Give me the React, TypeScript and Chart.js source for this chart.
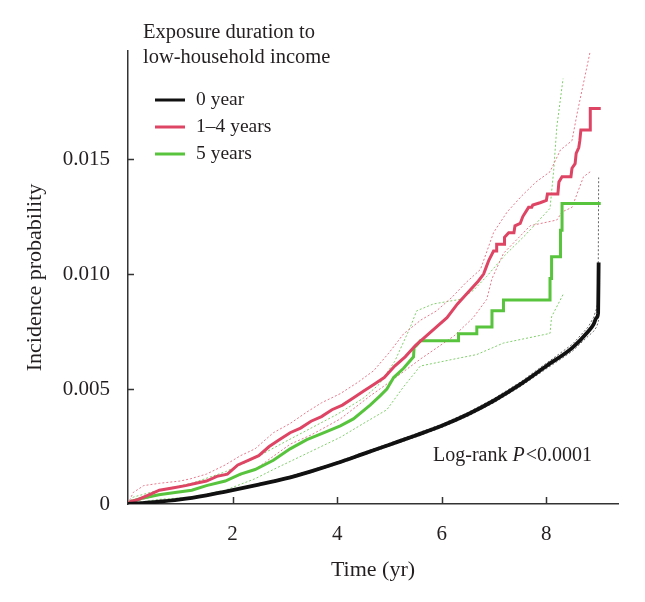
import { useEffect, useRef } from 'react';
import { Chart, registerables } from 'chart.js';

Chart.register(...registerables);

const FONT = '"Liberation Serif", "DejaVu Serif", serif';
const TEXT = '#231f20';

// ---------- data ----------
const xTicks = [2, 4, 6, 8];
const yTicks = [0, 0.005, 0.01, 0.015];
const yTickLabels = ['0', '0.005', '0.010', '0.015'];

const legendTitle = ['Exposure duration to', 'low-household income'];
const seriesNames = ['0 year', '1\u20134 years', '5 years'];

// 0 year
const t0 = [0, 0.5, 1, 1.5, 2, 2.5, 3, 3.5, 4, 4.5, 5, 5.5, 6, 6.5, 7, 7.5, 8, 8.5, 8.8, 8.9, 8.96, 8.99, 9.0];
const v0 = [0, 0.00008, 0.0002, 0.00038, 0.0006, 0.00084, 0.0011, 0.00142, 0.00178, 0.00218, 0.00258, 0.00298, 0.0034, 0.0039, 0.0045, 0.0052, 0.006, 0.0068, 0.0075, 0.0078, 0.0081, 0.0083, 0.0105];
const v0Upper = [0, 0.00009, 0.00022, 0.0004, 0.00063, 0.00087, 0.00114, 0.00147, 0.00183, 0.00224, 0.00264, 0.00305, 0.00347, 0.00398, 0.00459, 0.0053, 0.00612, 0.00695, 0.0077, 0.0081, 0.0085, 0.0088, 0.0142];
const v0Lower = [0, 0.00007, 0.00018, 0.00036, 0.00057, 0.00081, 0.00106, 0.00137, 0.00173, 0.00212, 0.00252, 0.00291, 0.00333, 0.00382, 0.00441, 0.0051, 0.00588, 0.00665, 0.0073, 0.0075, 0.0077, 0.0079, 0.008];

// 1-4 years
const t1 = [0, 0.05, 0.2, 0.4, 0.6, 0.85, 1.1, 1.3, 1.5, 1.7, 1.9, 2.1, 2.3, 2.5, 2.7, 2.9, 3.1, 3.3, 3.5, 3.7, 3.9, 4.1, 4.3, 4.5, 4.7, 4.9, 5.1, 5.3, 5.5, 5.7, 5.9, 6.1, 6.3, 6.5, 6.7,
  6.8, 6.85, 6.9, 6.99, 7.05, 7.05, 7.2, 7.2, 7.28, 7.38, 7.4, 7.5, 7.55, 7.66, 7.72, 7.74, 7.88, 8.0, 8.02, 8.22, 8.24, 8.3, 8.47, 8.49, 8.55, 8.57, 8.62, 8.64, 8.66, 8.84, 8.84, 9.04];
const v1 = [0, 0.0001, 0.0002, 0.0004, 0.0006, 0.0007, 0.0008, 0.0009, 0.001, 0.0012, 0.0013, 0.0017, 0.0019, 0.0021, 0.0025, 0.0028, 0.0031, 0.0033, 0.0036, 0.0038, 0.0041, 0.0043, 0.0046, 0.0049, 0.0052, 0.0055, 0.006, 0.0064, 0.0069, 0.0073, 0.0077, 0.0081, 0.0087, 0.0092, 0.0097,
  0.01, 0.0103, 0.0106, 0.011, 0.011, 0.0113, 0.0113, 0.0116, 0.0118, 0.0118, 0.0121, 0.0122, 0.0125, 0.0129, 0.0129, 0.013, 0.0131, 0.0132, 0.01348, 0.01348, 0.014, 0.01423, 0.01423, 0.0146, 0.0148, 0.01525, 0.0155, 0.0158, 0.01626, 0.01626, 0.0172, 0.0172];
const t1Upper = [0, 0.1, 0.3, 0.6, 1.0, 1.2, 1.5, 1.86, 2.15, 2.43, 2.78, 3.1, 3.42, 3.7, 4.06, 4.4, 4.7, 5.0, 5.27, 5.6, 5.9, 6.2, 6.45, 6.74, 6.99, 7.25, 7.53, 7.8, 8.07, 8.27, 8.49, 8.59, 8.71, 8.84];
const v1Upper = [0, 0.0005, 0.0008, 0.0009, 0.001, 0.0011, 0.0013, 0.0017, 0.0021, 0.0024, 0.0031, 0.0035, 0.004, 0.0044, 0.0048, 0.0053, 0.0058, 0.0066, 0.0074, 0.008, 0.0084, 0.009, 0.0096, 0.0102, 0.0118, 0.0127, 0.0134, 0.014, 0.01445, 0.0154, 0.0158, 0.017, 0.0183, 0.0197];
const t1Lower = [0, 0.27, 0.6, 1.22, 1.86, 2.43, 3.1, 3.5, 4.06, 4.63, 5.0, 5.59, 6.23, 6.6, 6.86, 6.96, 7.18, 7.69, 8.2, 8.3, 8.49, 8.71, 8.84];
const v1Lower = [0, 0.0002, 0.0004, 0.0006, 0.001, 0.0015, 0.0026, 0.003, 0.0037, 0.0047, 0.0053, 0.0063, 0.0073, 0.0081, 0.0089, 0.0098, 0.0109, 0.0121, 0.01235, 0.0127, 0.0129, 0.01423, 0.01445];

// 5 years
const t5 = [0, 0.05, 0.27, 0.59, 0.9, 1.22, 1.5, 1.86, 2.15, 2.43, 2.78, 3.1, 3.42, 3.75, 4.06, 4.31, 4.63, 4.82, 4.95, 5.08, 5.27, 5.46, 5.47, 5.52, 5.59,
  6.32, 6.32, 6.67, 6.67, 6.96, 6.96, 7.18, 7.18, 8.07, 8.07, 8.1, 8.1, 8.27, 8.27, 8.3, 8.3, 9.04];
const v5 = [0, 0.0001, 0.00025, 0.0004, 0.0005, 0.0006, 0.0008, 0.001, 0.0013, 0.0015, 0.0019, 0.0024, 0.0028, 0.0031, 0.0034, 0.0037, 0.0043, 0.0047, 0.005, 0.0055, 0.0059, 0.0064, 0.0068, 0.0069, 0.0071,
  0.0071, 0.0074, 0.0074, 0.0077, 0.0077, 0.0084, 0.0084, 0.00887, 0.00887, 0.00981, 0.00981, 0.01075, 0.01075, 0.0119, 0.0119, 0.01307, 0.01307];
const t5Upper = [0, 0.1, 0.59, 1.22, 1.86, 2.43, 3.0, 3.5, 4.0, 4.5, 4.8, 5.1, 5.4, 5.52, 5.84, 6.35, 6.61, 6.86, 7.2, 7.6, 8.07, 8.14, 8.2, 8.32];
const v5Upper = [0, 0.0003, 0.0006, 0.0009, 0.0014, 0.002, 0.0027, 0.0033, 0.0039, 0.0046, 0.0052, 0.0062, 0.0077, 0.0084, 0.0087, 0.0089, 0.0093, 0.0099, 0.0108, 0.0117, 0.01286, 0.0145, 0.0164, 0.0185];
const t5Lower = [0, 0.59, 1.22, 1.86, 2.43, 2.78, 3.42, 4.06, 4.5, 4.95, 5.27, 5.59, 6.23, 6.67, 7.18, 8.07, 8.1, 8.33];
const v5Lower = [0, 0.0002, 0.0003, 0.0006, 0.0011, 0.0015, 0.0022, 0.0029, 0.0035, 0.0041, 0.0051, 0.006, 0.0063, 0.0065, 0.007, 0.00742, 0.00814, 0.00916];

const logRankText = ['Log-rank ', 'P', '<0.0001'];

// ---------- styles ----------
const BLACK = '#111111';
const RED = '#de4463';
const GREEN = '#58c43d';
const seriesColors = [BLACK, RED, GREEN];

const pts = (t: number[], v: number[]) => t.map((x, i) => ({ x, y: v[i] }));

const overlay = {
  id: 'overlay',
  afterDraw(chart: any) {
    const { ctx, chartArea, scales } = chart;
    const xs = scales.x;
    const ys = scales.y;
    ctx.save();
    // inward ticks
    ctx.strokeStyle = '#333';
    ctx.lineWidth = 1.5;
    ctx.beginPath();
    yTicks.forEach((v) => {
      if (v === 0) return;
      const py = Math.round(ys.getPixelForValue(v)) + 0.5;
      ctx.moveTo(chartArea.left, py);
      ctx.lineTo(chartArea.left + 6, py);
    });
    xTicks.forEach((v) => {
      const px = Math.round(xs.getPixelForValue(v)) + 0.5;
      ctx.moveTo(px, chartArea.bottom);
      ctx.lineTo(px, chartArea.bottom - 7);
    });
    ctx.stroke();

    // legend
    ctx.fillStyle = TEXT;
    ctx.textBaseline = 'middle';
    ctx.textAlign = 'left';
    ctx.font = `20.5px ${FONT}`;
    ctx.fillText(legendTitle[0], 143, 33);
    ctx.fillText(legendTitle[1], 143, 58);
    ctx.font = `19.5px ${FONT}`;
    seriesNames.forEach((name, i) => {
      const y = 100 + i * 27;
      ctx.strokeStyle = seriesColors[i];
      ctx.lineWidth = 3;
      ctx.beginPath();
      ctx.moveTo(155, y);
      ctx.lineTo(185, y);
      ctx.stroke();
      ctx.fillStyle = TEXT;
      ctx.fillText(name, 196, y);
    });

    // log-rank
    let x = 433;
    const y = 456;
    ctx.font = `20px ${FONT}`;
    ctx.fillText(logRankText[0], x, y);
    x += ctx.measureText(logRankText[0]).width;
    ctx.font = `italic 20px ${FONT}`;
    ctx.fillText(logRankText[1], x, y);
    x += ctx.measureText(logRankText[1]).width + 1;
    ctx.font = `20px ${FONT}`;
    ctx.fillText(logRankText[2], x, y);
    ctx.restore();
  },
};

export default function App() {
  const ref = useRef<HTMLCanvasElement | null>(null);
  useEffect(() => {
    if (!ref.current) return;
    const ci = (data: any, color: string, order: number) => ({
      data,
      borderColor: color,
      borderWidth: 1,
      borderDash: [2, 2],
      pointRadius: 0,
      fill: false,
      order,
    });
    const chart = new Chart(ref.current, {
      type: 'line',
      data: {
        datasets: [
          { label: seriesNames[0], data: pts(t0, v0), borderColor: BLACK, borderWidth: 3.8, pointRadius: 0, cubicInterpolationMode: 'monotone', order: 1 },
          { label: seriesNames[1], data: pts(t1, v1), borderColor: RED, borderWidth: 3, pointRadius: 0, order: 2 },
          { label: seriesNames[2], data: pts(t5, v5), borderColor: GREEN, borderWidth: 3, pointRadius: 0, order: 3 },
          ci(pts(t0, v0Upper), '#666666', 4),
          ci(pts(t0, v0Lower), '#666666', 5),
          ci(pts(t1Upper, v1Upper), '#e8788c', 6),
          ci(pts(t1Lower, v1Lower), '#e8788c', 7),
          ci(pts(t5Upper, v5Upper), '#7fcf6a', 8),
          ci(pts(t5Lower, v5Lower), '#7fcf6a', 9),
        ] as any,
      },
      options: {
        responsive: false,
        animation: false,
        layout: { padding: { left: 0, top: 51, right: 27, bottom: 0 } },
        plugins: { legend: { display: false }, tooltip: { enabled: false } },
        scales: {
          x: {
            type: 'linear',
            min: 0,
            max: 9.37,
            grid: { display: false, drawTicks: false },
            border: { display: true, color: '#333', width: 1.5 },
            afterBuildTicks: (s: any) => { s.ticks = xTicks.map((value) => ({ value })); },
            afterFit: (s: any) => { s.height = 98; },
            ticks: { color: TEXT, font: { family: FONT, size: 21 }, padding: 18, maxRotation: 0, callback: (v: any) => String(v) },
            title: { display: true, text: 'Time (yr)', color: TEXT, font: { family: FONT, size: 22, lineHeight: 1.2 }, padding: { top: 0, bottom: 19 } },
          },
          y: {
            type: 'linear',
            min: 0,
            max: 0.0197,
            grid: { display: false, drawTicks: false },
            border: { display: true, color: '#333', width: 1.5 },
            afterBuildTicks: (s: any) => { s.ticks = yTicks.map((value) => ({ value })); },
            afterFit: (s: any) => { s.width = 128; },
            ticks: {
              color: TEXT,
              font: { family: FONT, size: 21 },
              padding: 18,
              callback: (v: any) => { const i = yTicks.indexOf(Number(v)); return i >= 0 ? yTickLabels[i] : ''; },
            },
            title: { display: true, text: 'Incidence probability', color: TEXT, font: { family: FONT, size: 22, lineHeight: 1.2 }, padding: { top: 22, bottom: 0 } },
          },
        },
      },
      plugins: [overlay],
    });
    return () => chart.destroy();
  }, []);
  return (
    <div style={{ position: 'fixed', left: 0, top: 0, width: 645, height: 602, background: '#fff' }}>
      <canvas ref={ref} width={645} height={602} style={{ display: 'block' }} />
    </div>
  );
}
